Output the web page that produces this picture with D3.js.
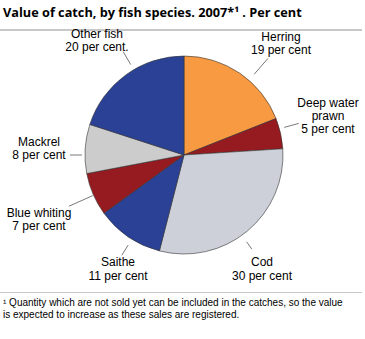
<!DOCTYPE html>
<html><head><meta charset="utf-8">
<script src="https://cdn.jsdelivr.net/npm/d3@7"></script>
<style>
html,body{margin:0;padding:0;background:#fff;}
svg{display:block;}
</style></head>
<body>
<svg id="chart" width="365" height="339"></svg>
<script>
// ---- data ----
const categories = ["Herring", "Deep water prawn", "Cod", "Saithe", "Blue whiting", "Mackrel", "Other fish"];
const values = [19, 5, 30, 11, 7, 8, 20];
const labelLines = [
  ["Herring", "19 per cent"],
  ["Deep water", "prawn", "5 per cent"],
  ["Cod", "30 per cent"],
  ["Saithe", "11 per cent"],
  ["Blue whiting", "7 per cent"],
  ["Mackrel", "8 per cent"],
  ["Other fish", "20 per cent."]
];
const colors = ["#F79A42", "#961B20", "#CDD0D8", "#2A4196", "#961B20", "#CCCCCC", "#2A4196"];
const titleText = "Value of catch, by fish species. 2007*\u00B9 . Per cent";
const footLines = ["\u00B9 Quantity which are not sold yet can be included in the catches, so the value",
                   "is expected to increase as these sales are registered."];

// ---- layout (not data) ----
const cx = 184, cy = 155, R = 99;
// leader: [angle deg, r1, r2]; label: [x, first baseline y, line height]
const leaders = [[41, 107, 128], [74.6, 104, 119], [144.2, 107, 116], [211.8, 106, 118], [246, 100, 126], [270, 102, 114], [329.5, 105, 120]];
const labelPos = [[281, 41, 13], [328, 107, 13], [262, 266, 14], [118, 266, 14], [39, 217, 13], [39, 146, 13], [97, 38, 13]];

const svg = d3.select("#chart");

// title
const title = svg.append("text")
  .attr("x", 3).attr("y", 17)
  .attr("font-family", "'Open Sans', sans-serif")
  .attr("font-weight", "bold")
  .attr("font-size", 13)
  .attr("fill", "#000")
  .text(titleText);
const tw = title.node().getComputedTextLength();
title.attr("font-size", 13 * 299 / tw);

svg.append("rect").attr("x", 0).attr("y", 29).attr("width", 362).attr("height", 2).attr("fill", "#c8c8c8");

// pie
const pie = d3.pie().sort(null).value(d => d)(values);
const arc = d3.arc().innerRadius(0).outerRadius(R);
const g = svg.append("g").attr("transform", `translate(${cx},${cy})`);
g.selectAll("path").data(pie).join("path")
  .attr("d", arc)
  .attr("fill", (d, i) => colors[i])
  .attr("stroke", "#333")
  .attr("stroke-width", 0.6);

// leaders
const rad = a => a * Math.PI / 180;
g.selectAll("line.leader").data(leaders).join("line")
  .attr("class", "leader")
  .attr("x1", d => d[1] * Math.sin(rad(d[0])))
  .attr("y1", d => -d[1] * Math.cos(rad(d[0])))
  .attr("x2", d => d[2] * Math.sin(rad(d[0])))
  .attr("y2", d => -d[2] * Math.cos(rad(d[0])))
  .attr("stroke", "#555")
  .attr("stroke-width", 0.8);

// labels
labelLines.forEach((lines, i) => {
  const [x, y, lh] = labelPos[i];
  const t = svg.append("text")
    .attr("font-family", "'Liberation Sans', Arial, sans-serif")
    .attr("font-size", 12)
    .attr("fill", "#000")
    .attr("text-anchor", "middle");
  lines.forEach((s, k) => {
    t.append("tspan").attr("x", x).attr("y", y + k * lh).text(s);
  });
});

// footnote
svg.append("rect").attr("x", 0).attr("y", 292).attr("width", 362).attr("height", 1).attr("fill", "#c8c8c8");
footLines.forEach((s, k) => {
  svg.append("text")
    .attr("x", 3).attr("y", 306 + k * 12)
    .attr("font-family", "'Liberation Sans', Arial, sans-serif")
    .attr("font-size", 10)
    .attr("fill", "#000")
    .text(s);
});
</script>
</body></html>
